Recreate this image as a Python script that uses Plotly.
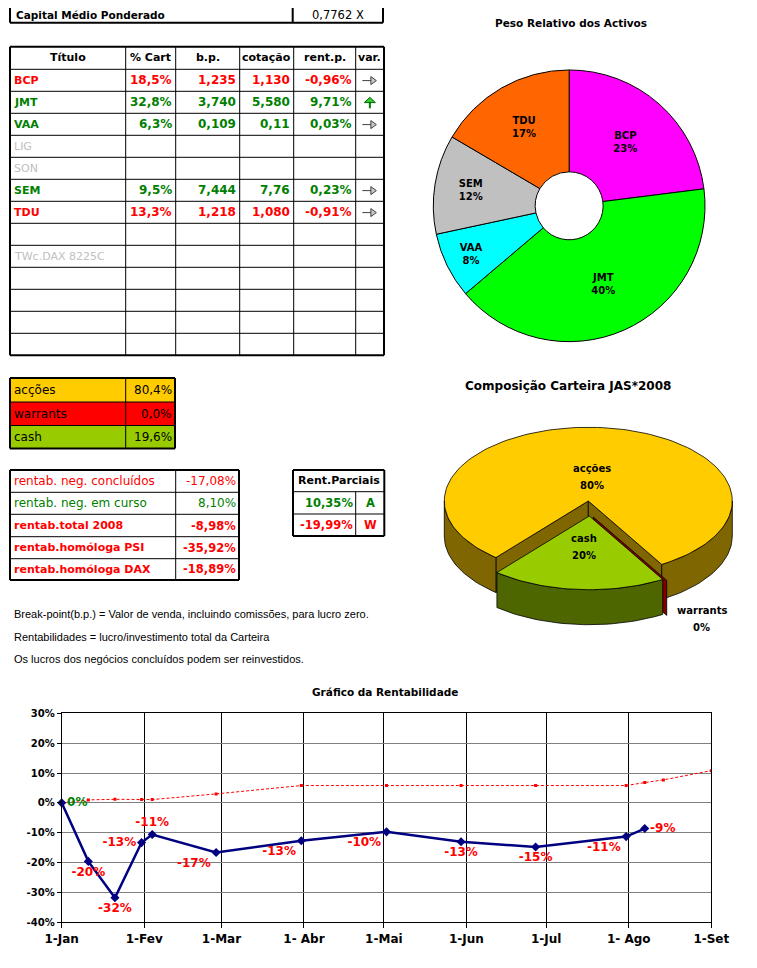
import numpy as np
import plotly.graph_objects as go

W, H = 757, 968
OX, OY = 8.0, 8.0   # page body margin of the html page
FONT = "DejaVu Sans"
NOTE_FONT = "Liberation Sans"
RED = "#FF0000"
GREEN = "#008000"
GREY_TXT = "#C0C0C0"

# ---------------- data ----------------
capital_label = "Capital Médio Ponderado"
capital_value = "0,7762 X"

headers = ["Título", "% Cart", "b.p.", "cotação", "rent.p.", "var."]
titulos = ["BCP", "JMT", "VAA", "LIG", "SON", "SEM", "TDU", "", "TWc.DAX 8225C", "", "", "", ""]
pct_cart = ["18,5%", "32,8%", "6,3%", "", "", "9,5%", "13,3%", "", "", "", "", "", ""]
bp_vals = ["1,235", "3,740", "0,109", "", "", "7,444", "1,218", "", "", "", "", "", ""]
cotacao = ["1,130", "5,580", "0,11", "", "", "7,76", "1,080", "", "", "", "", "", ""]
rent_p = ["-0,96%", "9,71%", "0,03%", "", "", "0,23%", "-0,91%", "", "", "", "", "", ""]
variacao = ["right", "up", "right", "", "", "right", "right", "", "", "", "", "", ""]
estado = ["neg", "pos", "pos", "off", "off", "pos", "neg", "", "off", "", "", "", ""]

pie_labels = ["BCP", "JMT", "VAA", "SEM", "TDU"]
pie_values = [18.5, 32.8, 6.3, 9.5, 13.3]
pie_pct_text = ["23%", "40%", "8%", "12%", "17%"]
pie_colors = ["#FF00FF", "#00FF00", "#00FFFF", "#C0C0C0", "#FF6600"]

alloc_labels = ["acções", "warrants", "cash"]
alloc_values = [80.4, 0.0, 19.6]
alloc_colors = ["#FFCC00", "#FF0000", "#99CC00"]
alloc_side_colors = ["#806600", "#800000", "#4D6600"]

rentab_labels = ["rentab. neg. concluídos", "rentab. neg. em curso", "rentab.total 2008",
                 "rentab.homóloga PSI", "rentab.homóloga DAX"]
rentab_values = ["-17,08%", "8,10%", "-8,98%", "-35,92%", "-18,89%"]
rentab_colors = [RED, GREEN, RED, RED, RED]
rentab_bold = [False, False, True, True, True]

parciais_title = "Rent.Parciais"
parciais_values = ["10,35%", "-19,99%"]
parciais_codes = ["A", "W"]
parciais_colors = [GREEN, RED]

notes = ["Break-point(b.p.) = Valor de venda, incluindo comissões, para lucro zero.",
         "Rentabilidades = lucro/investimento total da Carteira",
         "Os lucros dos negócios concluídos podem ser reinvestidos."]

rent_dates = ["2008-01-01", "2008-01-11", "2008-01-21", "2008-01-31", "2008-02-04", "2008-02-28",
              "2008-03-31", "2008-05-02", "2008-05-30", "2008-06-27", "2008-07-31", "2008-08-07"]
rent_values = [0.0, -19.6, -31.8, -13.3, -10.6, -16.6, -12.7, -9.7, -13.0, -14.8, -11.3, -8.6]
rent_label_pos = ["middle right", "bottom center", "bottom center", "middle left", "top center",
                  "bottom left", "bottom left", "bottom left", "bottom center", "bottom center",
                  "bottom left", "middle right"]

ref_dates = ["2008-01-01", "2008-01-11", "2008-01-21", "2008-01-31", "2008-02-04", "2008-02-28",
             "2008-03-31", "2008-05-02", "2008-05-30", "2008-06-27", "2008-07-31", "2008-08-07",
             "2008-08-14", "2008-09-01"]
ref_values = [0.0, 1.0, 1.2, 1.1, 1.1, 3.0, 5.8, 5.8, 5.8, 5.8, 5.8, 6.8, 7.7, 10.8]

month_ticks = ["2008-01-01", "2008-02-01", "2008-03-01", "2008-04-01", "2008-05-01",
               "2008-06-01", "2008-07-01", "2008-08-01", "2008-09-01"]
month_labels = ["1-Jan", "1-Fev", "1-Mar", "1- Abr", "1-Mai", "1-Jun", "1-Jul", "1- Ago", "1-Set"]
y_ticks = [-40, -30, -20, -10, 0, 10, 20, 30]
y_tick_labels = ["-40%", "-30%", "-20%", "-10%", "0%", "10%", "20%", "30%"]

# ---------------- helpers ----------------
shapes = []
annotations = []


def X(px):
    return (px - OX) / W


def Y(py):
    return 1.0 - (py - OY) / H


def hline(y, x0, x1, w=1, color="black"):
    shapes.append(dict(type="line", xref="paper", yref="paper", x0=X(x0), x1=X(x1),
                       y0=Y(y), y1=Y(y), line=dict(color=color, width=w)))


def vline(x, y0, y1, w=1, color="black"):
    shapes.append(dict(type="line", xref="paper", yref="paper", x0=X(x), x1=X(x),
                       y0=Y(y0), y1=Y(y1), line=dict(color=color, width=w)))


def box(x0, y0, x1, y1, fill):
    shapes.append(dict(type="rect", xref="paper", yref="paper", x0=X(x0), x1=X(x1),
                       y0=Y(y1), y1=Y(y0), fillcolor=fill, line=dict(width=0), layer="below"))


def label(x, y, s, size=11, color="black", bold=False, anchor="left", family=FONT):
    annotations.append(dict(xref="paper", yref="paper", x=X(x), y=Y(y), text=s, showarrow=False,
                            xanchor=anchor, yanchor="middle", borderpad=0,
                            font=dict(family=family, size=size, color=color,
                                      weight="bold" if bold else "normal")))


def path(points, fill, line_color, w=1, close=True):
    d = "M " + " L ".join(f"{X(px):.5f},{Y(py):.5f}" for px, py in points)
    if close:
        d += " Z"
    shapes.append(dict(type="path", xref="paper", yref="paper", path=d,
                       fillcolor=fill, line=dict(color=line_color, width=w)))


state_color = {"neg": RED, "pos": GREEN, "off": GREY_TXT, "": "black"}

# ---------------- capital box ----------------
cap_x = [10, 292.7, 383]
cap_bottom = 22.7
for i, xe in enumerate(cap_x):
    vline(xe, 0, cap_bottom, 2)
hline(cap_bottom, cap_x[0], cap_x[-1], 2)
label(15, 15, capital_label, 10.5, "black", True)
label((cap_x[1] + cap_x[2]) / 2, 15, capital_value, 11.5, "black", False, "center")

# ---------------- main table ----------------
col_x = [10, 125.7, 175.7, 239.7, 293.7, 355.7, 384]
tbl_top = 46.7
hdr_bot = 69.3
row_h = 22.0
row_y = [hdr_bot + i * row_h for i in range(len(titulos) + 1)]

for j, ye in enumerate(row_y):
    hline(ye, col_x[0], col_x[-1], 2 if j == len(row_y) - 1 else 1)
hline(tbl_top, col_x[0], col_x[-1], 2)
for i, xe in enumerate(col_x):
    vline(xe, tbl_top, row_y[-1], 2 if i in (0, len(col_x) - 1) else 1)

hy = (tbl_top + hdr_bot) / 2
for i, h in enumerate(headers):
    label((col_x[i] + col_x[i + 1]) / 2, hy, h, 11, "black", True, "center")

value_cols = [pct_cart, bp_vals, cotacao, rent_p]
for r in range(len(titulos)):
    cy = (row_y[r] + row_y[r + 1]) / 2
    st = estado[r]
    col = state_color[st]
    if titulos[r]:
        label(col_x[0] + 3, cy, titulos[r], 11, col, st != "off")
    for k, vals in enumerate(value_cols):
        if vals[r]:
            label(col_x[k + 2] - 2.5, cy, vals[r], 12, col, True, "right")
    ax = (col_x[5] + col_x[6]) / 2
    if variacao[r] == "right":
        path([(ax - 7.5, cy + 0.3), (ax + 1.2, cy + 0.3)], None, "#404040", 1, close=False)
        path([(ax + 1.0, cy - 3.7), (ax + 6.5, cy + 0.3), (ax + 1.0, cy + 4.3)], "#C8C8C8", "#404040", 1)
    elif variacao[r] == "up":
        path([(ax, cy - 0.5), (ax, cy + 6.0)], None, "#008000", 2, close=False)
        path([(ax - 5.5, cy + 0.3), (ax, cy - 5.0), (ax + 5.5, cy + 0.3)], "#33CC33", "#006600", 1)

# ---------------- allocation table ----------------
alloc_y = [378.0, 402.0, 425.5, 448.5]
alloc_x = [10, 125.7, 175]
for i, lab in enumerate(alloc_labels):
    box(alloc_x[0], alloc_y[i], alloc_x[2], alloc_y[i + 1], alloc_colors[i])
    cy = (alloc_y[i] + alloc_y[i + 1]) / 2
    label(alloc_x[0] + 3, cy, lab, 12)
    label(alloc_x[2] - 2, cy, f"{alloc_values[i]:.1f}%".replace(".", ","), 12, "black", False, "right")
for j, ye in enumerate(alloc_y):
    hline(ye, alloc_x[0], alloc_x[-1], 2 if j in (0, len(alloc_y) - 1) else 1)
for i, xe in enumerate(alloc_x):
    vline(xe, alloc_y[0], alloc_y[-1], 2 if i in (0, len(alloc_x) - 1) else 1)

# ---------------- rentabilidade table ----------------
rt_x = [10, 175.7, 239]
rt_y = [470, 492.3, 514.3, 536.7, 558.7, 580]
for i, lab in enumerate(rentab_labels):
    cy = (rt_y[i] + rt_y[i + 1]) / 2
    label(rt_x[0] + 3, cy, lab, 12 if not rentab_bold[i] else 11, rentab_colors[i], rentab_bold[i])
    label(rt_x[2] - 2, cy, rentab_values[i], 12 if not rentab_bold[i] else 11.5,
          rentab_colors[i], rentab_bold[i], "right")
for j, ye in enumerate(rt_y):
    hline(ye, rt_x[0], rt_x[-1], 2 if j in (0, len(rt_y) - 1) else 1)
for i, xe in enumerate(rt_x):
    vline(xe, rt_y[0], rt_y[-1], 2 if i in (0, len(rt_x) - 1) else 1)

# ---------------- rent. parciais ----------------
rp_x = [293, 355.7, 384.3]
rp_y = [470, 491.7, 514, 536]
label((rp_x[0] + rp_x[2]) / 2, (rp_y[0] + rp_y[1]) / 2, parciais_title, 11, "black", True, "center")
for i in range(len(parciais_values)):
    cy = (rp_y[i + 1] + rp_y[i + 2]) / 2
    label(rp_x[1] - 2, cy, parciais_values[i], 11.5, parciais_colors[i], True, "right")
    label((rp_x[1] + rp_x[2]) / 2, cy, parciais_codes[i], 11.5, parciais_colors[i], True, "center")
for j, ye in enumerate(rp_y):
    hline(ye, rp_x[0], rp_x[-1], 2 if j in (0, len(rp_y) - 1) else 1)
vline(rp_x[0], rp_y[0], rp_y[-1], 2)
vline(rp_x[2], rp_y[0], rp_y[-1], 2)
vline(rp_x[1], rp_y[1], rp_y[-1], 1)

# ---------------- notes ----------------
for i, n in enumerate(notes):
    label(13.3, 614 + i * 22.5, n, 11, "black", False, "left", NOTE_FONT)

# ---------------- titles ----------------
label(570.7, 23, "Peso Relativo dos Activos", 10.5, "black", True, "center")
label(568, 386, "Composição Carteira JAS*2008", 12, "black", True, "center")
label(385, 692, "Gráfico da Rentabilidade", 10.5, "black", True, "center")

fig = go.Figure()

# ---------------- donut ----------------
fig.add_trace(go.Pie(
    labels=pie_labels, values=pie_values,
    text=[f"{l}<br>{p}" for l, p in zip(pie_labels, pie_pct_text)],
    textinfo="text", textposition="inside", insidetextorientation="horizontal",
    sort=False, direction="clockwise", rotation=0, hole=0.25,
    marker=dict(colors=pie_colors, line=dict(color="black", width=1)),
    textfont=dict(family=FONT, size=10, color="black", weight="bold"),
    domain=dict(x=[X(433.3), X(705)], y=[Y(342.3), Y(69.3)]),
    automargin=False, showlegend=False, hoverinfo="skip"))

# ---------------- 3D pie (drawn on a pixel-scaled axis pair) ----------------
cx3, cy3, rx3, ry3, dep3 = 588.3, 501.0, 144.0, 73.7, 35.0
start3 = 219.9
offsets = [(0.0, 0.0), (5.0, 16.0), (1.0, 15.0)]

tot = sum(alloc_values)
spans = [v / tot * 360.0 for v in alloc_values]
starts = [start3 + sum(spans[:i]) for i in range(len(spans))]


def P(theta, r=1.0, z=0.0, off=(0.0, 0.0)):
    t = np.radians(theta)
    return (cx3 + off[0] + r * rx3 * np.sin(t), cy3 + off[1] - r * ry3 * np.cos(t) + z)


def arc(t0, t1, z, off):
    n = max(2, int(abs(t1 - t0) / 2) + 2)
    return [P(t, 1.0, z, off) for t in np.linspace(t0, t1, n)]


def poly(points, fill):
    xs = [p[0] for p in points] + [points[0][0]]
    ys = [p[1] for p in points] + [points[0][1]]
    fig.add_trace(go.Scatter(x=xs, y=ys, mode="lines", fill="toself", fillcolor=fill,
                             line=dict(color="black", width=0.8), xaxis="x2", yaxis="y2",
                             showlegend=False, hoverinfo="skip"))


def front_parts(a0, a1):
    parts = []
    for k in range(-1, 3):
        lo, hi = 90 + 360 * k, 270 + 360 * k
        s, e = max(a0, lo), min(a1, hi)
        if e > s:
            parts.append((s, e))
    return parts


def draw_slice(i, cut_faces):
    a0, a1 = starts[i], starts[i] + spans[i]
    off = offsets[i]
    if cut_faces:
        for a in (a0, a1):
            c0 = P(a, 0.0, 0.0, off)
            c1 = P(a, 0.0, dep3, off)
            poly([c0, P(a, 1, 0, off), P(a, 1, dep3, off), c1], alloc_side_colors[i])
    for s, e in front_parts(a0, a1):
        pts = arc(s, e, 0.0, off) + arc(e, s, dep3, off)
        poly(pts, alloc_side_colors[i])
    if spans[i] > 0:
        poly([P(a0, 0.0, 0.0, off)] + arc(a0, a1, 0.0, off), alloc_colors[i])


draw_slice(0, True)
# zero-width warrants slice: only its visible radial face
aw = starts[1]
ow = offsets[1]
poly([P(aw, 0, 0, ow), P(aw, 1, 0, ow), P(aw, 1, dep3, ow), P(aw, 0, dep3, ow)], alloc_side_colors[1])
draw_slice(2, False)

lab_r = [0.32, None, 0.42]
for i in (0, 2):
    mid = starts[i] + spans[i] / 2
    lx, ly = P(mid, lab_r[i], 0.0, offsets[i])
    label(lx, ly - 8.5, alloc_labels[i], 10, "black", True, "center")
    label(lx, ly + 8.5, f"{alloc_values[i]:.0f}%", 10, "black", True, "center")
wx, wy = P(aw, 1.0, dep3, ow)
label(wx + 35, wy - 5, alloc_labels[1], 10, "black", True, "center")
label(wx + 35, wy + 12, f"{alloc_values[1]:.0f}%", 10, "black", True, "center")

# ---------------- line chart ----------------
fig.add_trace(go.Scatter(
    x=ref_dates, y=ref_values, mode="lines+markers",
    line=dict(color=RED, width=1, dash="3px,2px"),
    marker=dict(color=RED, size=3, symbol="square"),
    showlegend=False, hoverinfo="skip", xaxis="x", yaxis="y"))

rent_text = [f"{v:.0f}%" for v in rent_values]
rent_text_colors = [GREEN if abs(v) < 0.5 else RED for v in rent_values]
fig.add_trace(go.Scatter(
    x=rent_dates, y=rent_values, mode="lines+markers+text",
    line=dict(color="#000080", width=2.5),
    marker=dict(color="#000080", size=7, symbol="diamond"),
    text=rent_text, textposition=rent_label_pos,
    textfont=dict(family=FONT, size=12, color=rent_text_colors, weight="bold"),
    cliponaxis=False, showlegend=False, hoverinfo="skip", xaxis="x", yaxis="y"))

fig.update_layout(
    width=W, height=H, autosize=False,
    margin=dict(l=0, r=0, t=0, b=0, pad=0, autoexpand=False),
    paper_bgcolor="white", plot_bgcolor="rgba(0,0,0,0)",
    showlegend=False,
    shapes=shapes, annotations=annotations,
    xaxis=dict(type="date", range=[month_ticks[0], month_ticks[-1]],
               domain=[X(61.7), X(711.3)], anchor="y", automargin=False,
               tickvals=month_ticks, ticktext=month_labels,
               showgrid=True, gridcolor="black", gridwidth=1,
               showline=True, linecolor="black", linewidth=1, mirror=True,
               ticks="outside", ticklen=5, tickcolor="black", zeroline=False,
               tickfont=dict(family=FONT, size=12, color="black", weight="bold")),
    yaxis=dict(range=[-40, 30], tickvals=y_ticks, ticktext=y_tick_labels,
               domain=[Y(922.3), Y(713.3)], anchor="x", automargin=False,
               showgrid=True, gridcolor="#808080", gridwidth=1,
               showline=True, linecolor="black", linewidth=1, mirror=True,
               ticks="outside", ticklen=4, tickcolor="black", zeroline=False,
               tickfont=dict(family=FONT, size=10, color="black", weight="bold")),
    xaxis2=dict(domain=[X(430), X(757)], range=[430, 757], anchor="y2", visible=False,
                automargin=False, fixedrange=True, showgrid=False, zeroline=False),
    yaxis2=dict(domain=[Y(660), Y(395)], range=[660, 395], anchor="x2", visible=False,
                automargin=False, fixedrange=True, showgrid=False, zeroline=False),
)

fig.write_html("out.html")
